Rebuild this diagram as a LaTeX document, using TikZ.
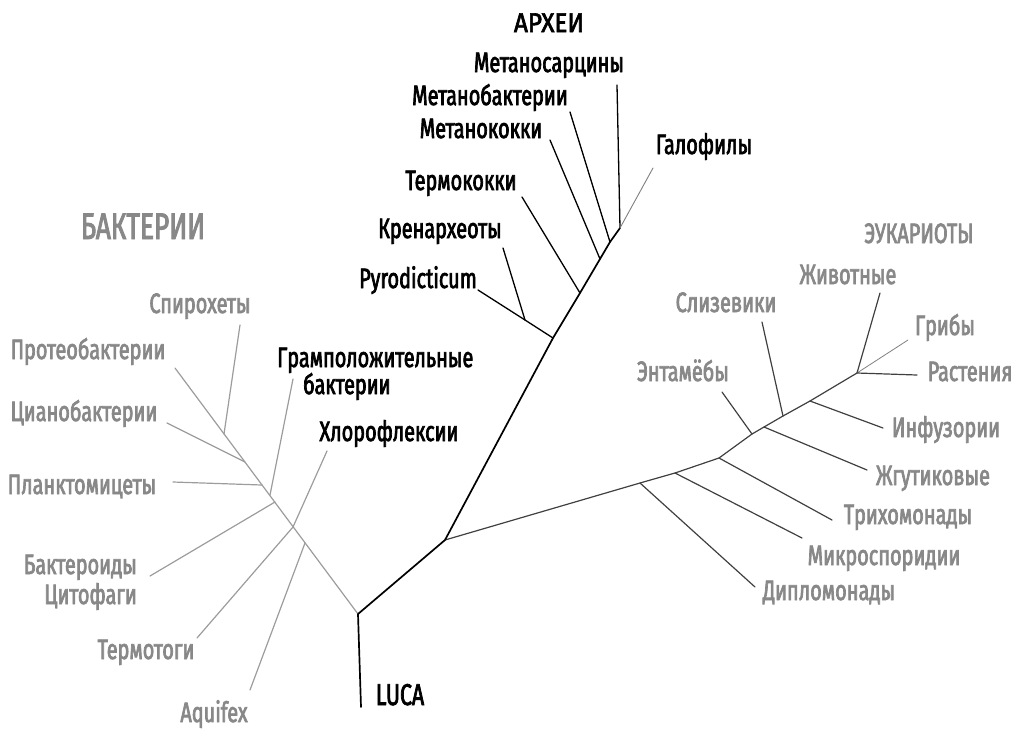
\documentclass[tikz,border=0pt]{standalone}
\usepackage{fontspec}
\setmainfont[FakeStretch=0.71,FakeBold=2.5]{Fira Sans}
\newfontfamily\widefont[FakeStretch=0.9,FakeBold=2.5]{Fira Sans}
\definecolor{lab}{HTML}{888888}
\definecolor{bline}{HTML}{9C9C9C}
\definecolor{eline}{HTML}{404040}
\tikzset{
  lbl/.style={font=\fontsize{28}{30}\selectfont, inner sep=0pt, anchor=base},
  blk/.style={lbl,text=black},
  gry/.style={lbl,text=lab},
  arch/.style={draw=black,line width=1.3pt,line cap=round,line join=round},
  trunk/.style={draw=black,line width=1.7pt,line cap=round,line join=round},
  bact/.style={draw=bline,line width=1.2pt,line cap=round},
  euk/.style={draw=eline,line width=1.2pt,line cap=round,line join=round},
}
\begin{document}
\begin{tikzpicture}[x=1pt,y=-1pt]
\useasboundingbox (0,0) rectangle (1020,740);
% ---------- labels: archaea ----------
\node[blk,font=\widefont\fontsize{27}{29}\selectfont] (arhei) at (549,32) {АРХЕИ};
\node[blk] (msar) at (549,72) {Метаносарцины};
\node[blk] (mbak) at (490,105) {Метанобактерии};
\node[blk] (mkok) at (481,138) {Метанококки};
\node[blk] (galo) at (704,154) {Галофилы};
\node[blk] (term) at (461,190) {Термококки};
\node[blk] (kren) at (440,238) {Кренархеоты};
\node[blk] (pyro) at (418,288) {Pyrodicticum};
\node[blk,font=\fontsize{30}{32}\selectfont] (luca) at (400,705) {LUCA};
% ---------- labels: bacteria ----------
\node[gry,font=\fontsize{37}{40}\selectfont] (bakt) at (143,239) {БАКТЕРИИ};
\node[gry] (spir) at (200,313) {Спирохеты};
\node[gry] (prot) at (88,359) {Протеобактерии};
\node[gry] (cian) at (84,421) {Цианобактерии};
\node[gry] (plan) at (82,494) {Планктомицеты};
\node[gry,anchor=base east] (bacA) at (137,574) {Бактероиды};
\node[gry,anchor=base east] (bacB) at (137,604) {Цитофаги};
\node[gry] (ttog) at (146,659) {Термотоги};
\node[gry] (aqui) at (214,722) {Aquifex};
\node[blk,anchor=base west] (gramA) at (277,367) {Грамположительные};
\node[blk,anchor=base west] (gramB) at (303,394) {бактерии};
\node[blk] (chlo) at (389,441) {Хлорофлексии};
% ---------- labels: eukaryotes ----------
\node[gry] (euka) at (919,243) {ЭУКАРИОТЫ};
\node[gry] (zhiv) at (848,284) {Животные};
\node[gry] (sliz) at (726,312) {Слизевики};
\node[gry] (grib) at (945,335) {Грибы};
\node[gry] (rast) at (970,381) {Растения};
\node[gry] (enta) at (683,381) {Энтамёбы};
\node[gry] (infu) at (946,437) {Инфузории};
\node[gry] (zhgu) at (933,485) {Жгутиковые};
\node[gry] (trih) at (908,524) {Трихомонады};
\node[gry] (mikr) at (884,565) {Микроспоридии};
\node[gry] (dipl) at (829,600) {Дипломонады};
% ---------- coordinates ----------
\coordinate (root) at (358,614);
\coordinate (lucaEnd) at (361,707);
\coordinate (ek) at (445,540);
\coordinate (a1) at (553,338);
\coordinate (a2) at (580,293);
\coordinate (a3) at (600,259);
\coordinate (a4) at (610,242);
\coordinate (atop) at (620,228);
\coordinate (kj) at (525,320);
\coordinate (pyroE) at (478,290);
\coordinate (krenE) at (503,248);
\coordinate (termE) at (522,197);
\coordinate (mkokE) at (550,140);
\coordinate (mbakE) at (570,112);
\coordinate (msarE) at (617,85);
\coordinate (galoE) at (653,168);
% bacteria
\coordinate (protE) at (175,368);
\coordinate (b1) at (224,434);
\coordinate (b2) at (245,462);
\coordinate (b3) at (262,485);
\coordinate (b4) at (270,495);
\coordinate (b5) at (275,502);
\coordinate (b6) at (293,527);
\coordinate (b7) at (305,543);
\coordinate (spirE) at (240,325);
\coordinate (cianE) at (167,423);
\coordinate (planE) at (173,482);
\coordinate (gramE) at (293,379);
\coordinate (bacE) at (150,576);
\coordinate (chloE) at (327,451);
\coordinate (ttogE) at (197,638);
\coordinate (aquiE) at (250,690);
% eukaryotes
\coordinate (e1) at (640,483);
\coordinate (e2) at (675,473);
\coordinate (e3) at (719,458);
\coordinate (e4) at (752,434);
\coordinate (e5) at (764,427);
\coordinate (e6) at (783,416);
\coordinate (e7) at (810,401);
\coordinate (e8) at (857,373);
\coordinate (diplE) at (755,587);
\coordinate (mikrE) at (802,538);
\coordinate (trihE) at (832,520);
\coordinate (entaE) at (722,392);
\coordinate (zhguE) at (867,470);
\coordinate (slizE) at (762,322);
\coordinate (infuE) at (883,428);
\coordinate (zhivE) at (880,293);
\coordinate (gribE) at (908,340);
\coordinate (rastE) at (917,375);
% ---------- bacteria branches ----------
\draw[bact] (protE) -- (root);
\draw[bact] (spirE) -- (b1);
\draw[bact] (cianE) -- (b2);
\draw[bact] (planE) -- (b3);
\draw[bact] (gramE) -- (b4);
\draw[bact] (bacE) -- (b5);
\draw[bact] (chloE) -- (b6);
\draw[bact] (ttogE) -- (b6);
\draw[bact] (aquiE) -- (b7);
% ---------- eukaryote branches ----------
\draw[euk] (ek) -- (e1) -- (e2) -- (e3) -- (e4) -- (e5) -- (e6) -- (e7) -- (e8);
\draw[euk] (diplE) -- (e1);
\draw[euk] (mikrE) -- (e2);
\draw[euk] (trihE) -- (e3);
\draw[euk] (entaE) -- (e4);
\draw[euk] (zhguE) -- (e5);
\draw[euk] (slizE) -- (e6);
\draw[euk] (infuE) -- (e7);
\draw[euk] (zhivE) -- (e8);
\draw[euk,draw=gray,line width=0.8pt] (gribE) -- (e8);
\draw[euk] (rastE) -- (e8);
% ---------- archaea / trunk ----------
\draw[trunk] (lucaEnd) -- (root) -- (ek) -- (a1) -- (a2) -- (a3) -- (a4) -- (atop);
\draw[arch] (pyroE) -- (kj) -- (a1);
\draw[arch] (krenE) -- (kj);
\draw[arch] (termE) -- (a2);
\draw[arch] (mkokE) -- (a3);
\draw[arch] (mbakE) -- (a4);
\draw[arch] (msarE) -- (atop);
\draw[arch,draw=gray,line width=0.9pt] (galoE) -- (atop);
\end{tikzpicture}
\end{document}
